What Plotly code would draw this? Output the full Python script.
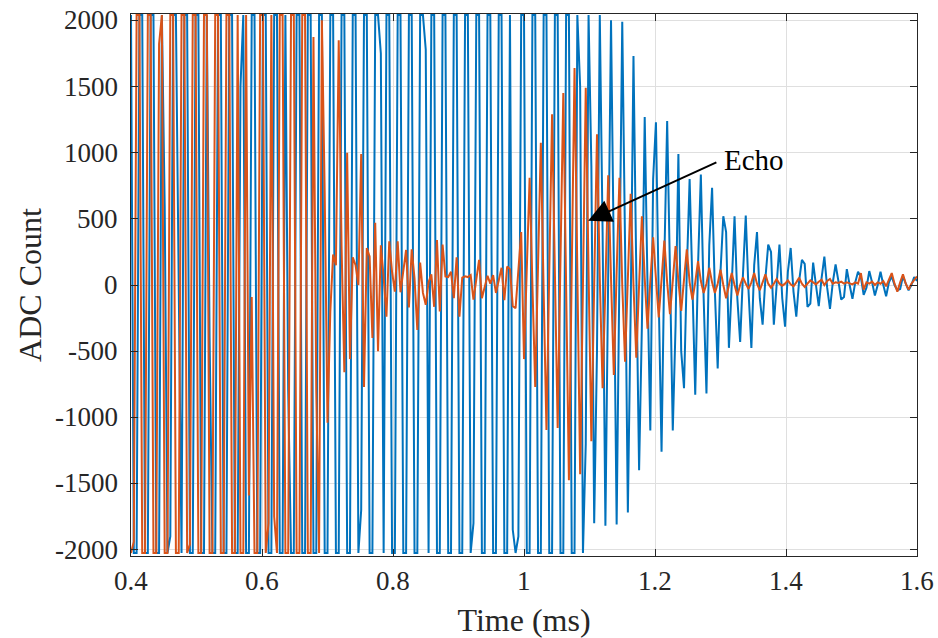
import numpy as np
import plotly.graph_objects as go

# ADC counts (blue = transmit/ring-down channel, orange = receive channel)
blue_counts = [
    2040, -2025, -2025, 2040, 2040, -2025, -2025, 2040, 2040, -2025,
    -2025, 2040, 600, -2025, -1900, 2040, 2040, 150, -2025, 2040,
    2040, -2025, -2025, 2040, 2040, -2025, -2025, 2040, -400, -2025,
    -2025, 2040, 2040, -2025, -2025, 2040, 2040, -2025, -2025, 1500,
    2040, -2025, -2025, 2040, 2040, -2025, -2025, 2040, 2040, -2025,
    -2025, 2040, 2040, -2025, -2025, 2040, -800, -2025, -2025, 2040,
    2040, -2025, -2025, 2040, 2040, -2025, -2025, 2040, 2040, -2025,
    -2025, 2040, 2040, -2025, -2025, 2040, 2040, -2025, -2025, 2040,
    2040, -2025, -1700, 2040, 2040, -2025, -2025, 2040, 2040, 1750,
    -2025, 2040, 2040, -2025, -2025, 2040, 2040, -2025, -2025, 2040,
    2040, -2025, -2025, 2040, 2040, 1780, -2025, 2040, 2040, -2025,
    -2025, 2040, 2040, -2025, -2025, 2040, 2040, -2025, -2025, 2040,
    2040, -2025, -1800, 2040, 2040, -2025, -2025, 2040, 2040, -2025,
    -2025, 2040, 2040, -2025, -2025, 2040, -1850, -2025, -1900, 2040,
    2040, -2025, -2025, 2040, 2040, -2025, -2025, 2040, 2040, -2025,
    -2025, 2040, 2040, -2025, -2025, 2040, 2040, -2025, -2025, 2040,
    1500, -2025, -1200, 2040, 900, -1800, -500, 2040, 400, -1820,
    -100, 2000, 200, -1810, 100, 1990, 300, -1720, -200, 1730,
    100, -1400, -300, 1270, 0, -1100, 800, 1230, -100, -1260,
    200, 1240, 100, -1100, -300, 990, -500, -780, 100, 800,
    0, -830, 150, 835, -100, -820, 300, 735, -50, -630,
    100, 520, 400, -475, 0, 520, -100, -430, 80, 525,
    -50, -475, 150, 400, -100, -300, 50, 305, 250, -300,
    0, 305, -100, -315, 100, 280, -50, -240, 30, 190,
    160, -165, -140, 170, 0, -160, 50, 215, -20, -180,
    20, 155, 30, -110, -90, 120, 0, -105, 20, 100,
    60, -75, -20, 105, 20, -80, 0, 100, 0, -85,
    20, 65, 0, -40, -30, 65, 10, -40, 0, 60,
    30,
]

orange_counts = [
    -2025, -1940, 2040, 2040, -2025, -2025, 2040, 2040, -2025, -2025,
    1820, 2040, -2025, -2025, 2040, 2040, -2025, -2025, 2040, 2040,
    -2025, -1960, 2040, 2040, -2025, -2025, 2040, 2040, -2025, -2025,
    2040, 2040, -2025, -2025, 2040, 2040, -2025, -2025, 2040, -2025,
    -2025, 2040, -1590, -90, -2025, -2025, 2040, 2040, -2025, -1800,
    2040, -1750, -2025, 2040, 2040, -2025, -2025, 2040, 2040, -2025,
    -2025, 2040, 2040, -2025, -2025, 1875, -800, -2025, 2000, 700,
    -1040, -200, 230, 150, 1850, 300, -660, 1000, -560, 210,
    150, 0, 990, -770, 280, 215, -400, 470, -500, 300,
    60, -240, 330, 100, -50, 330, -55, 100, 265, -170,
    270, 50, -340, 170, -60, -150, 20, 80, -165, 340,
    -200, 305, 65, 60, 100, -100, 210, -240, 55, 65,
    60, 75, -110, 40, 190, -100, -20, 70, 10, 75,
    -60, 30, 130, -115, 140, 120, -160, -175, 100, 400,
    -560, 120, 810, 0, -770, 150, 1075, -50, -1095, 100,
    1290, 100, -1080, 200, 1450, 0, -1475, 100, 1640, 100,
    -1430, 0, 1490, 100, -1180, 0, 1140, 50, -780, 0,
    830, 50, -680, 100, 810, 0, -580, 50, 690, 0,
    -550, 0, 520, 50, -330, 30, 360, 50, -245, 40,
    335, 20, -220, 30, 295, 30, -195, 40, 270, 20,
    -110, 20, 180, 30, -60, 10, 130, 20, -60, 10,
    115, 0, -100, 0, 90, 0, -80, 0, 58, 10,
    -30, 20, 90, 10, -40, 20, 80, 10, -20, 10,
    45, 10, -5, 10, 35, 5, -10, 20, 55, 10,
    -15, 10, 35, 20, 5, 25, 40, 0, 30, 45,
    10, 20, 15, 25, 10, 20, 15, 5, 20, 10,
    90, -35, 20, 10, 25, 0, 20, 10, 30, -10,
    40, 90, 10, -50, 20, 80, 10, -35, 10, 40,
    65,
]

t_start_ms = 0.4
t_end_ms = 1.6

x_ticks = [0.4, 0.6, 0.8, 1.0, 1.2, 1.4, 1.6]
x_tick_labels = ["0.4", "0.6", "0.8", "1", "1.2", "1.4", "1.6"]
y_ticks = [-2000, -1500, -1000, -500, 0, 500, 1000, 1500, 2000]
y_tick_labels = ["-2000", "-1500", "-1000", "-500", "0", "500", "1000", "1500", "2000"]

echo_text = "Echo"
echo_tip = (1.098, 485)
echo_tail = (1.296, 932)
echo_label_pos = (1.302, 948)

t_blue = np.linspace(t_start_ms, t_end_ms, len(blue_counts))
t_orange = np.linspace(t_start_ms, t_end_ms, len(orange_counts))

BLUE = "#0072BD"
ORANGE = "#D95319"
AX = "#262626"
GRID = "#dfdfdf"
FONT = "serif"
TICK_SIZE = 27

fig = go.Figure()
fig.add_trace(go.Scatter(x=t_blue, y=blue_counts, mode="lines",
                         line=dict(color=BLUE, width=2), hoverinfo="skip"))
fig.add_trace(go.Scatter(x=t_orange, y=orange_counts, mode="lines",
                         line=dict(color=ORANGE, width=2), hoverinfo="skip"))

fig.add_annotation(x=echo_tip[0], y=echo_tip[1], ax=echo_tail[0], ay=echo_tail[1],
                   xref="x", yref="y", axref="x", ayref="y", text="",
                   showarrow=True, arrowhead=2, arrowsize=2.3, arrowwidth=2,
                   arrowcolor="black", standoff=0, startstandoff=0)
fig.add_annotation(x=echo_label_pos[0], y=echo_label_pos[1], xref="x", yref="y",
                   text=echo_text, showarrow=False, xanchor="left", yanchor="middle",
                   font=dict(family=FONT, size=29, color="black"))

# tick labels drawn as text (serif), placed at the axis tick values
for xv, lab in zip(x_ticks, x_tick_labels):
    fig.add_annotation(x=xv, y=0, xref="x", yref="paper", text=lab, showarrow=False,
                       xanchor="center", yanchor="middle", yshift=-25,
                       font=dict(family=FONT, size=TICK_SIZE, color=AX))
for yv, lab in zip(y_ticks, y_tick_labels):
    fig.add_annotation(x=0, y=yv, xref="paper", yref="y", text=lab, showarrow=False,
                       xanchor="right", yanchor="middle", xshift=-11,
                       font=dict(family=FONT, size=TICK_SIZE, color=AX))

fig.update_layout(
    width=938, height=638,
    margin=dict(l=131, r=21, t=14, b=82, autoexpand=False),
    paper_bgcolor="white", plot_bgcolor="white",
    showlegend=False,
    font=dict(family=FONT, color=AX),
)
fig.update_xaxes(
    range=[t_start_ms, t_end_ms], tickmode="array", tickvals=x_ticks, showticklabels=False,
    ticks="inside", ticklen=7, tickwidth=1, tickcolor=AX, automargin=False,
    showline=True, linecolor=AX, linewidth=1, mirror="ticks",
    showgrid=True, gridcolor=GRID, gridwidth=1, zeroline=False,
    title=dict(text="Time (ms)", font=dict(family=FONT, size=32, color=AX), standoff=52),
)
fig.update_yaxes(
    range=[-2048, 2048], tickmode="array", tickvals=y_ticks, showticklabels=False,
    ticks="inside", ticklen=7, tickwidth=1, tickcolor=AX, automargin=False,
    showline=True, linecolor=AX, linewidth=1, mirror="ticks",
    showgrid=True, gridcolor=GRID, gridwidth=1, zeroline=False,
    title=dict(text="ADC Count", font=dict(family=FONT, size=32, color=AX), standoff=78),
)

fig.write_html("out.html", config={"displayModeBar": False})
